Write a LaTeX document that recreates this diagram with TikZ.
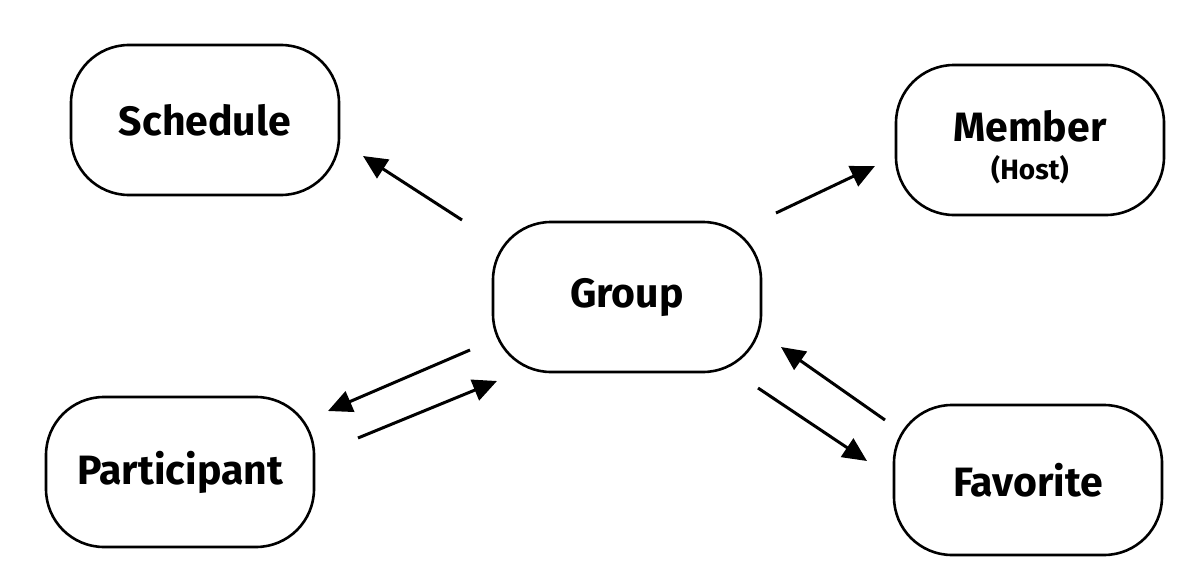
\documentclass[tikz,border=0pt]{standalone}
\usepackage{fontspec}
\setmainfont{Fira Sans}
\usetikzlibrary{arrows.meta}
\begin{document}
\begin{tikzpicture}[x=1pt,y=-1pt,
  ent/.style={draw=black, line width=2.6pt, rounded corners=58pt, minimum width=268pt, minimum height=150pt, inner sep=0pt, align=center, font=\fontsize{41}{44}\selectfont\bfseries},
  arr/.style={line width=3pt, -{Triangle[length=24pt,width=22pt]}}]
\useasboundingbox (0,0) rectangle (1200,586);
\node[ent] (schedule) at (205,120) {Schedule};
\node[ent] (member) at (1030,140) {\rule{0pt}{46pt}Member\\[-6pt]{\fontsize{28}{30}\selectfont (Host)}};
\node[ent] (group) at (627,297) {Group};
\node[ent] (participant) at (180,472) {Participant};
\node[ent] (favorite) at (1028,480) {Favorite};
\coordinate (gs1) at (462,220); \coordinate (gs2) at (363,156);
\coordinate (gm1) at (776,213); \coordinate (gm2) at (875,166);
\coordinate (gp1) at (470,350); \coordinate (gp2) at (328,411);
\coordinate (pg1) at (358,438); \coordinate (pg2) at (497,381);
\coordinate (fg1) at (885,420); \coordinate (fg2) at (781,347);
\coordinate (gf1) at (758,388); \coordinate (gf2) at (867,461);
\draw[arr] (gs1) -- (gs2);
\draw[arr] (gm1) -- (gm2);
\draw[arr] (gp1) -- (gp2);
\draw[arr] (pg1) -- (pg2);
\draw[arr] (fg1) -- (fg2);
\draw[arr] (gf1) -- (gf2);
\end{tikzpicture}
\end{document}
